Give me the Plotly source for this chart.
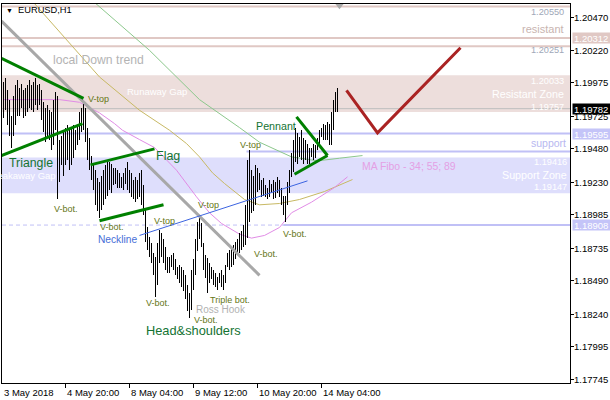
import plotly.graph_objects as go

# ---------------- data ----------------
bar_index = list(range(1, 169))
bar_high = [
    1.1998, 1.2001, 1.1992, 1.1985, 1.1973, 1.1988, 1.1996, 1.2000, 1.1994, 1.1997,
    1.1992, 1.1994, 1.1996, 1.2000, 1.1996, 1.1998, 1.2001, 1.1996, 1.1997, 1.1992,
    1.1983, 1.1979, 1.1981, 1.1977, 1.1976, 1.1985, 1.1991, 1.1988, 1.1955, 1.1958,
    1.1962, 1.1964, 1.1966, 1.1962, 1.1964, 1.1966, 1.1962, 1.1966, 1.1976, 1.1979,
    1.1982, 1.1979, 1.1964, 1.1956, 1.1943, 1.1936, 1.1932, 1.1926, 1.1923, 1.1928,
    1.1932, 1.1936, 1.1940, 1.1938, 1.1937, 1.1934, 1.1934, 1.1932, 1.1930, 1.1927,
    1.1930, 1.1934, 1.1938, 1.1932, 1.1930, 1.1925, 1.1927, 1.1925, 1.1930, 1.1932,
    1.1921, 1.1902, 1.1889, 1.1882, 1.1877, 1.1870, 1.1867, 1.1877, 1.1887, 1.1885,
    1.1880, 1.1874, 1.1867, 1.1867, 1.1868, 1.1870, 1.1865, 1.1859, 1.1861, 1.1859,
    1.1857, 1.1853, 1.1846, 1.1840, 1.1857, 1.1865, 1.1880, 1.1893, 1.1898, 1.1892,
    1.1877, 1.1868, 1.1866, 1.1862, 1.1859, 1.1857, 1.1855, 1.1852, 1.1855, 1.1857,
    1.1853, 1.1861, 1.1870, 1.1872, 1.1874, 1.1876, 1.1878, 1.1880, 1.1885, 1.1886,
    1.1891, 1.1906, 1.1940, 1.1947, 1.1932, 1.1928, 1.1936, 1.1934, 1.1930, 1.1925,
    1.1926, 1.1921, 1.1919, 1.1925, 1.1922, 1.1925, 1.1923, 1.1927, 1.1925, 1.1919,
    1.1913, 1.1913, 1.1923, 1.1932, 1.1945, 1.1955, 1.1964, 1.1960, 1.1957, 1.1962,
    1.1956, 1.1955, 1.1952, 1.1949, 1.1949, 1.1952, 1.1951, 1.1956, 1.1962, 1.1964,
    1.1967, 1.1966, 1.1968, 1.1967, 1.1976, 1.1985, 1.1991, 1.1994,
]
bar_low = [
    1.1971, 1.1977, 1.1966, 1.1958, 1.1949, 1.1958, 1.1966, 1.1973, 1.1973, 1.1979,
    1.1971, 1.1973, 1.1976, 1.1979, 1.1977, 1.1976, 1.1981, 1.1977, 1.1981, 1.1970,
    1.1961, 1.1953, 1.1958, 1.1955, 1.1947, 1.1951, 1.1962, 1.1910, 1.1923, 1.1936,
    1.1928, 1.1936, 1.1940, 1.1932, 1.1936, 1.1941, 1.1947, 1.1951, 1.1955, 1.1961,
    1.1962, 1.1953, 1.1940, 1.1932, 1.1925, 1.1917, 1.1906, 1.1901, 1.1896, 1.1902,
    1.1906, 1.1910, 1.1913, 1.1917, 1.1915, 1.1921, 1.1922, 1.1919, 1.1919, 1.1919,
    1.1917, 1.1922, 1.1917, 1.1915, 1.1912, 1.1910, 1.1908, 1.1910, 1.1912, 1.1906,
    1.1898, 1.1878, 1.1872, 1.1867, 1.1862, 1.1853, 1.1837, 1.1846, 1.1862, 1.1867,
    1.1862, 1.1857, 1.1855, 1.1855, 1.1859, 1.1857, 1.1853, 1.1850, 1.1847, 1.1844,
    1.1841, 1.1835, 1.1826, 1.1821, 1.1827, 1.1842, 1.1853, 1.1871, 1.1880, 1.1874,
    1.1857, 1.1851, 1.1840, 1.1847, 1.1850, 1.1846, 1.1844, 1.1842, 1.1847, 1.1844,
    1.1842, 1.1847, 1.1859, 1.1857, 1.1859, 1.1861, 1.1865, 1.1868, 1.1870, 1.1872,
    1.1874, 1.1876, 1.1881, 1.1893, 1.1900, 1.1901, 1.1906, 1.1916, 1.1917, 1.1912,
    1.1913, 1.1912, 1.1910, 1.1912, 1.1915, 1.1910, 1.1911, 1.1915, 1.1912, 1.1906,
    1.1898, 1.1893, 1.1906, 1.1915, 1.1927, 1.1931, 1.1938, 1.1937, 1.1942, 1.1940,
    1.1937, 1.1940, 1.1937, 1.1937, 1.1942, 1.1940, 1.1941, 1.1947, 1.1952, 1.1957,
    1.1955, 1.1955, 1.1955, 1.1951, 1.1951, 1.1962, 1.1976, 1.1976,
]

# Moving averages (MA Fibo 34 / 55 / 89)
ma34_x = [1, 29, 39, 49, 56.5, 60.5, 69, 76.5, 87.5, 97.5, 104, 110, 119, 125, 131.5, 139, 145, 155, 166.5, 173]
ma34_y = [1.1985, 1.1985, 1.1983, 1.1975, 1.1967, 1.1962, 1.1955, 1.1949, 1.1932, 1.1912,
          1.1900, 1.1892, 1.1884, 1.1881, 1.1883, 1.1889, 1.1900, 1.1908, 1.1919, 1.1927]
ma55_x = [1, 16, 49, 69, 84, 92.5, 99, 105.5, 111.5, 121.5, 129, 139, 149, 161.5, 175.5]
ma55_y = [1.2079, 1.2058, 1.2002, 1.1977, 1.1962, 1.1952, 1.1942, 1.1930, 1.1922, 1.1910,
          1.1906, 1.1907, 1.1910, 1.1916, 1.1925]
ma89_x = [39, 46.5, 74, 99, 119, 129, 145, 158, 169, 180.5]
ma89_y = [1.2069, 1.2058, 1.2022, 1.1985, 1.1964, 1.1953, 1.1942, 1.1939, 1.1941, 1.1943]

# Hand-drawn trend lines (bar index, price)
downtrend_x, downtrend_y = [0, 129], [1.2044, 1.1853]
tri_up_x, tri_up_y = [0, 41], [1.2016, 1.1986]
tri_lo_x, tri_lo_y = [0, 40.5], [1.1943, 1.1967]
flag_up_x, flag_up_y = [44.5, 76.5], [1.1936, 1.1948]
flag_lo_x, flag_lo_y = [49, 81], [1.1894, 1.1906]
pen_up_x, pen_up_y = [147.5, 163], [1.1972, 1.1943]
pen_lo_x, pen_lo_y = [146.5, 163], [1.1929, 1.1943]
neck_x, neck_y = [69, 153], [1.1883, 1.1924]
forecast_x, forecast_y = [172.5, 188, 229.5], [1.1992, 1.1960, 1.2024]

# Horizontal levels and zones
resist_levels = [1.20550, 1.20312, 1.20251]
resist_zone = [1.19757, 1.20033]
bid_price = 1.19782
support_level = 1.19595
support_level2 = 1.19460
support_level2_start = 122.5
support_zone = [1.19147, 1.19416]
low_level = 1.18908
low_level_solid_start = 141
chart_shift_bar = 169

x_tick_index = [0, 32, 64, 96, 128, 160]
x_tick_labels = ["3 May 2018", "4 May 20:00", "8 May 04:00", "9 May 12:00", "10 May 20:00", "14 May 04:00"]
y_tick_values = [1.20470, 1.20220, 1.19975, 1.19725, 1.19480, 1.19230,
                 1.18985, 1.18735, 1.18490, 1.18240, 1.17995, 1.17745]
y_tick_labels = ["%.5f" % v for v in y_tick_values]

# ---------------- layout geometry ----------------
W, H = 610, 400
ML, MR, MT, MB = 2, 40, 4, 17
PX0, PX1, PY0, PY1 = ML, W - MR, MT, H - MB
X_RANGE = [0.25, 284.25]
Y_RANGE = [1.17722, 1.20568]

def fx(px):
    return (px - PX0) / (PX1 - PX0)

def fy(py):
    return (PY1 - py) / (PY1 - PY0)

FONT = "Liberation Sans, Arial, sans-serif"
PINK_LINE = "rgb(224,200,196)"
PINK_FILL = "rgb(237,222,220)"
LAV_LINE = "rgb(192,192,246)"
LAV_FILL = "rgb(222,222,252)"
GREEN = "rgb(0,128,0)"
SMALL_COL = "rgb(100,118,20)"
BIG_COL = "rgb(20,115,50)"

fig = go.Figure()

# moving averages
fig.add_trace(go.Scatter(x=ma89_x, y=ma89_y, mode="lines", line=dict(color="rgb(140,200,140)", width=1), hoverinfo="skip"))
fig.add_trace(go.Scatter(x=ma55_x, y=ma55_y, mode="lines", line=dict(color="rgb(200,185,100)", width=1), hoverinfo="skip"))
fig.add_trace(go.Scatter(x=ma34_x, y=ma34_y, mode="lines", line=dict(color="rgb(225,140,230)", width=1), hoverinfo="skip"))

# price bars (high-low vertical lines)
cx, cy = [], []
for i, h, l in zip(bar_index, bar_high, bar_low):
    cx += [i, i, None]
    cy += [l, h, None]
fig.add_trace(go.Scatter(x=cx, y=cy, mode="lines", line=dict(color="black", width=1), hoverinfo="skip"))

# trend lines
def seg(xs, ys, color, width):
    fig.add_trace(go.Scatter(x=xs, y=ys, mode="lines", line=dict(color=color, width=width), hoverinfo="skip"))

seg(downtrend_x, downtrend_y, "rgb(168,168,168)", 3)
seg(tri_up_x, tri_up_y, GREEN, 3)
seg(tri_lo_x, tri_lo_y, GREEN, 3)
seg(flag_up_x, flag_up_y, GREEN, 3)
seg(flag_lo_x, flag_lo_y, GREEN, 3)
seg(pen_up_x, pen_up_y, GREEN, 3)
seg(pen_lo_x, pen_lo_y, GREEN, 3)
seg(neck_x, neck_y, "rgb(60,100,225)", 1)
seg(forecast_x, forecast_y, "rgb(170,35,35)", 3)

# chart shift marker
fig.add_trace(go.Scatter(x=[chart_shift_bar], y=[1.20558], mode="markers",
                         marker=dict(symbol="triangle-down", size=8, color="rgb(170,170,170)"),
                         cliponaxis=False, hoverinfo="skip"))

shapes = []
def hline(y, color, width, x0=0, x1=1, xref="paper", dash="solid"):
    shapes.append(dict(type="line", xref=xref, x0=x0, x1=x1, yref="y", y0=y, y1=y,
                       line=dict(color=color, width=width, dash=dash), layer="below"))

shapes.append(dict(type="rect", xref="paper", x0=0, x1=1, yref="y", y0=resist_zone[0], y1=resist_zone[1],
                   fillcolor=PINK_FILL, line=dict(width=0), layer="below"))
shapes.append(dict(type="rect", xref="paper", x0=0, x1=1, yref="y", y0=support_zone[0], y1=support_zone[1],
                   fillcolor=LAV_FILL, line=dict(width=0), layer="below"))
for lv in resist_levels:
    hline(lv, PINK_LINE, 2)
hline(bid_price, "rgb(190,190,190)", 1)
hline(support_level, LAV_LINE, 2)
hline(support_level2, LAV_LINE, 2, x0=support_level2_start, x1=X_RANGE[1], xref="x")
hline(low_level, LAV_LINE, 1, dash="4px,3px")
hline(low_level, LAV_LINE, 2, x0=low_level_solid_start, x1=X_RANGE[1], xref="x")

ann = []
def text(t, px, py, size, color, anchor="left"):
    ann.append(dict(text=t, xref="paper", yref="paper", x=fx(px), y=fy(py), xanchor=anchor, yanchor="middle",
                    showarrow=False, font=dict(family=FONT, size=size, color=color), borderpad=0))

text("local Down trend", 52, 60, 12.2, "rgb(180,180,180)")
text("Runaway Gap", 126, 91, 9.5, "white")
text("Breakaway Gap", -13, 175, 9.5, "white")
text("V-top", 87, 99, 9, SMALL_COL)
text("Triangle", 8, 163, 12.3, BIG_COL)
text("Flag", 155, 156, 12.5, BIG_COL)
text("V-bot.", 53, 209, 9, SMALL_COL)
text("V-bot.", 99, 227, 9, SMALL_COL)
text("V-top", 153, 221, 9, SMALL_COL)
text("Neckline", 97, 239, 10.2, "rgb(70,110,215)")
text("V-top", 197, 205, 9, SMALL_COL)
text("V-top", 239, 145, 9, SMALL_COL)
text("Pennant", 255, 126, 10.7, BIG_COL)
text("V-bot.", 282, 234, 9, SMALL_COL)
text("V-bot.", 253, 254, 9, SMALL_COL)
text("V-bot.", 145, 303, 9, SMALL_COL)
text("Triple bot.", 209, 300, 9, SMALL_COL)
text("Ross Hook", 195, 309, 10, "rgb(178,178,178)")
text("V-bot.", 193, 320, 9, SMALL_COL)
text("Head&shoulders", 145, 330, 12.8, BIG_COL)
text("MA Fibo - 34; 55; 89", 361, 166, 10.4, "rgb(228,160,228)")

text("1.20550", 565, 12, 9.2, "rgb(160,168,184)", "right")
text("resistant", 565, 29, 11, "rgb(200,180,176)", "right")
text("1.20251", 565, 50, 9.2, "rgb(160,168,184)", "right")
text("1.20033", 565, 81, 9.2, "white", "right")
text("Resistant Zone", 565, 94, 10.7, "white", "right")
text("1.19757", 565, 107, 9.2, "white", "right")
text("support", 567, 143, 10.5, "rgb(184,184,240)", "right")
text("1.19416", 568, 162, 9.2, "white", "right")
text("Support Zone", 568, 175, 10.7, "white", "right")
text("1.19147", 568, 187, 9.2, "white", "right")

text("\u25BC", 5, 10, 7, "black")
text("EURUSD,H1", 17, 10, 9.3, "black")

# x-axis labels (MT4 style: left aligned at tick)
for i, lab in zip(x_tick_index, x_tick_labels):
    px = PX0 + (i - X_RANGE[0]) * (PX1 - PX0) / (X_RANGE[1] - X_RANGE[0])
    px = max(px, 3)
    text(lab, px, 392, 9.5, "black")

# price boxes on the axis
def pricebox(v, bg):
    ann.append(dict(text="%.5f" % v, xref="paper", yref="y", x=1, y=v, xanchor="left", yanchor="middle",
                    xshift=2, showarrow=False, bgcolor=bg, width=38, height=8, align="left", borderpad=1,
                    font=dict(family=FONT, size=9.5, color="white")))

pricebox(resist_levels[1], PINK_LINE)
pricebox(bid_price, "black")
pricebox(support_level, "rgb(196,196,248)")
pricebox(low_level, "rgb(196,196,248)")

# y-axis labels (left aligned right of the tick marks), drawn after the boxes
for v, lab in zip(y_tick_values, y_tick_labels):
    ann.append(dict(text=lab, xref="paper", yref="y", x=1, y=v, xanchor="left", yanchor="middle",
                    xshift=3, showarrow=False, borderpad=0,
                    font=dict(family=FONT, size=9.5, color="black")))

fig.update_layout(
    width=W, height=H, margin=dict(l=ML, r=MR, t=MT, b=MB),
    paper_bgcolor="white", plot_bgcolor="white", showlegend=False,
    shapes=shapes, annotations=ann,
    xaxis=dict(range=X_RANGE, showgrid=False, zeroline=False, showline=True, linecolor="black", linewidth=1,
               mirror=True, ticks="outside", ticklen=4, tickcolor="black", tickvals=x_tick_index,
               showticklabels=False, fixedrange=True),
    yaxis=dict(range=Y_RANGE, side="right", showgrid=False, zeroline=False, showline=True, linecolor="black",
               linewidth=1, mirror=True, ticks="outside", ticklen=3, tickcolor="black",
               tickvals=y_tick_values, showticklabels=False, fixedrange=True),
    hovermode=False,
)

post = (
    "document.body.style.margin='0';document.body.style.padding='0';"
    "var tr=document.querySelectorAll('.scatterlayer .trace');"
    "if(tr.length>3){tr[3].querySelectorAll('path').forEach(function(p){p.style.shapeRendering='crispEdges';});}"
)
fig.write_html("out.html", config={"displayModeBar": False}, post_script=post)
